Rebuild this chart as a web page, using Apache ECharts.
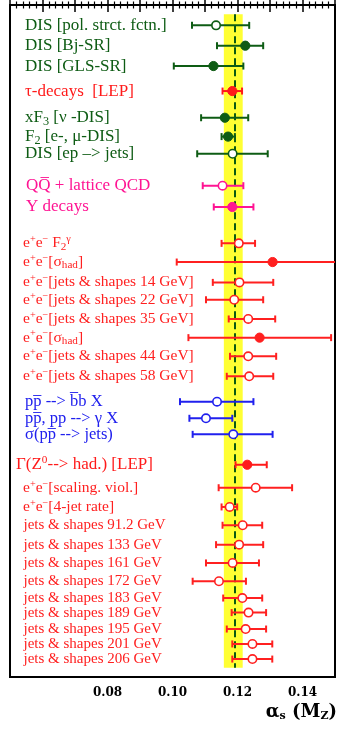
<!DOCTYPE html>
<html lang="en">
<head>
    <meta charset="UTF-8">
    <title>alphas summary</title>
    <script src="https://cdn.jsdelivr.net/npm/echarts@6/dist/echarts.min.js"></script>
    <style>
        html, body { margin: 0; padding: 0; background: #fff; }
        #chart { width: 339px; height: 731px; }
    </style>
</head>
<body>
<div id="chart"></div>
<script>
    // measurements, top to bottom
    var labels = [
        'DIS [pol. strct. fctn.]', 'DIS [Bj-SR]', 'DIS [GLS-SR]', 'τ-decays  [LEP]',
        'xF{sub|3} [ν -DIS]', 'F{sub|2} [e-, μ-DIS]', 'DIS [ep –> jets]',
        'QQ\u0305 + lattice QCD', 'Υ decays',
        'e{sup|+}e{sup|−} F{sub|2}{sup|γ}', 'e{sup|+}e{sup|−}[σ{sub|had}]',
        'e{sup|+}e{sup|−}[jets & shapes 14 GeV]', 'e{sup|+}e{sup|−}[jets & shapes 22 GeV]',
        'e{sup|+}e{sup|−}[jets & shapes 35 GeV]', 'e{sup|+}e{sup|−}[σ{sub|had}]',
        'e{sup|+}e{sup|−}[jets & shapes 44 GeV]', 'e{sup|+}e{sup|−}[jets & shapes 58 GeV]',
        'pp\u0305 --> b\u0305b X', 'pp\u0305, pp --> γ X', 'σ(pp\u0305 --> jets)',
        'Γ(Z{sup|0}--> had.) [LEP]', 'e{sup|+}e{sup|−}[scaling. viol.]', 'e{sup|+}e{sup|−}[4-jet rate]',
        'jets & shapes 91.2 GeV', 'jets & shapes 133 GeV', 'jets & shapes 161 GeV',
        'jets & shapes 172 GeV', 'jets & shapes 183 GeV', 'jets & shapes 189 GeV',
        'jets & shapes 195 GeV', 'jets & shapes 201 GeV', 'jets & shapes 206 GeV'
    ];
    var groups = ['dis', 'dis', 'dis', 'tau', 'dis', 'dis', 'dis', 'hq', 'hq',
        'ee', 'ee', 'ee', 'ee', 'ee', 'ee', 'ee', 'ee',
        'pp', 'pp', 'pp',
        'z', 'ee', 'ee', 'jets', 'jets', 'jets', 'jets', 'jets', 'jets', 'jets', 'jets', 'jets'];
    var filled = [0, 1, 1, 1, 1, 1, 0, 0, 1, 0, 1, 0, 0, 0, 1, 0, 0, 0, 0, 0, 1, 0, 0, 0, 0, 0, 0, 0, 0, 0, 0, 0];
    var alphaS = [0.1134, 0.1224, 0.1126, 0.1184, 0.1161, 0.1171, 0.1185, 0.1154, 0.1184,
        0.1204, 0.1308, 0.1206, 0.1190, 0.1233, 0.1268, 0.1233, 0.1236,
        0.1137, 0.1103, 0.1187,
        0.1230, 0.1256, 0.1176, 0.1216, 0.1205, 0.1185, 0.1143, 0.1215, 0.1234, 0.1225, 0.1246, 0.1246];
    var errLow = [0.1060, 0.1137, 0.1004, 0.1154, 0.1088, 0.1151, 0.1076, 0.1093, 0.1127,
        0.1151, 0.1013, 0.1124, 0.1103, 0.1173, 0.1049, 0.1177, 0.1167,
        0.1023, 0.1052, 0.1062,
        0.1194, 0.1142, 0.1151, 0.1154, 0.1134, 0.1103, 0.1062, 0.1156, 0.1182, 0.1167, 0.1184, 0.1184];
    var errHigh = [0.1236, 0.1279, 0.1218, 0.1214, 0.1233, 0.1192, 0.1293, 0.1218, 0.1249,
        0.1254, 0.1603, 0.1310, 0.1279, 0.1316, 0.1488, 0.1319, 0.1310,
        0.1249, 0.1184, 0.1308,
        0.1290, 0.1368, 0.1199, 0.1276, 0.1279, 0.1266, 0.1226, 0.1276, 0.1288, 0.1288, 0.1307, 0.1307];
    // vertical slot of every row (row units, top = 0)
    var rowPos = [1.09, 2.18, 3.27, 4.61, 6.04, 7.05, 7.97, 9.68, 10.82,
        12.77, 13.77, 14.86, 15.79, 16.82, 17.82, 18.82, 19.89,
        21.25, 22.14, 23.0,
        24.63, 25.86, 26.89, 27.87, 28.91, 29.89, 30.87, 31.77, 32.55, 33.43, 34.23, 35.04];

    var worldAvg = 0.119;
    var avgBand = [0.1158, 0.1216];
    var xTickLabels = ['0.08', '0.10', '0.12', '0.14'];

    var groupColor = {dis: '#0e5c14', tau: '#ff1a1a', hq: '#ff1493', ee: '#ff2020', pp: '#2020ee', z: '#ff1a1a', jets: '#ff2020'};
    var groupFont = {dis: 17, tau: 17, hq: 17, ee: 15.5, pp: 16.5, z: 17, jets: 15};
    var groupIndent = {dis: 15, tau: 15, hq: 16, ee: 13, pp: 15, z: 6, jets: 13.5};

    var rows = [];
    for (var i = 0; i < labels.length; i++) {
        rows.push([alphaS[i], errLow[i], errHigh[i], rowPos[i], i]);
    }

    function renderRow(params, api) {
        var i = api.value(4);
        var g = groups[i];
        var col = groupColor[g];
        var cs = params.coordSys;
        var right = cs.x + cs.width;
        var c = api.coord([api.value(0), api.value(3)]);
        var lo = api.coord([api.value(1), api.value(3)]);
        var hi = api.coord([api.value(2), api.value(3)]);
        var hx = Math.min(hi[0], right);
        var kids = [];
        kids.push({type: 'line', shape: {x1: lo[0], y1: c[1], x2: hx, y2: c[1]}, style: {stroke: col, lineWidth: 2}});
        kids.push({type: 'line', shape: {x1: lo[0], y1: c[1] - 3.5, x2: lo[0], y2: c[1] + 3.5}, style: {stroke: col, lineWidth: 2}});
        if (hi[0] < right) {
            kids.push({type: 'line', shape: {x1: hi[0], y1: c[1] - 3.5, x2: hi[0], y2: c[1] + 3.5}, style: {stroke: col, lineWidth: 2}});
        }
        kids.push({
            type: 'circle', shape: {cx: c[0], cy: c[1], r: filled[i] ? 4.6 : 4.2},
            style: {fill: filled[i] ? col : '#fff', stroke: col, lineWidth: filled[i] ? 1 : 1.6}
        });
        var fs = groupFont[g];
        kids.push({
            type: 'text',
            style: {
                text: labels[i], x: cs.x + groupIndent[g], y: c[1],
                fill: col, fontSize: fs, fontFamily: 'Liberation Serif',
                align: 'left', verticalAlign: 'middle',
                rich: {
                    sup: {fontSize: fs * 0.66, fontFamily: 'Liberation Serif', fill: col, padding: [0, 0, fs * 0.5, 0]},
                    sub: {fontSize: fs * 0.72, fontFamily: 'Liberation Serif', fill: col, padding: [fs * 0.45, 0, 0, 0]}
                }
            }
        });
        return {type: 'group', children: kids};
    }

    var chart = echarts.init(document.getElementById('chart'));
    var tickStyle = {
        axisLine: {show: true, lineStyle: {color: '#000', width: 2}},
        axisTick: {show: true, inside: true, length: 7, lineStyle: {color: '#000', width: 1.5}},
        minorTick: {show: true, splitNumber: 5, length: 3.5, lineStyle: {color: '#000', width: 1.2}},
        splitLine: {show: false}
    };
    chart.setOption({
        animation: false,
        backgroundColor: '#fff',
        grid: {left: 10, right: 4, top: 5, bottom: 54, show: true, borderColor: '#000', borderWidth: 2},
        xAxis: [
            Object.assign({
                type: 'value', min: 0.05, max: 0.15, interval: 0.01, position: 'bottom',
                axisLabel: {
                    margin: 10, color: '#000', fontFamily: 'DejaVu Serif', fontWeight: 'bold', fontSize: 12,
                    formatter: function (v) {
                        var s = v.toFixed(2);
                        return xTickLabels.indexOf(s) >= 0 ? s : '';
                    }
                }
            }, tickStyle),
            Object.assign({
                type: 'value', min: 0.05, max: 0.15, interval: 0.01, position: 'top',
                axisLabel: {show: false}
            }, tickStyle)
        ],
        yAxis: {
            type: 'value', min: 0, max: 36, inverse: true,
            axisLine: {show: true, lineStyle: {color: '#000', width: 2}},
            axisTick: {show: false}, axisLabel: {show: false}, splitLine: {show: false}
        },
        graphic: [{
            type: 'text', right: 2, top: 703,
            style: {
                text: '{a|α}{s|s}{a| (M}{z|Z}{a|)}',
                rich: {
                    a: {fontFamily: 'DejaVu Serif', fontWeight: 'bold', fontSize: 18, fill: '#000'},
                    s: {fontFamily: 'DejaVu Serif', fontWeight: 'bold', fontSize: 11, fill: '#000', padding: [8, 0, 0, 0]},
                    z: {fontFamily: 'DejaVu Serif', fontWeight: 'bold', fontSize: 11, fill: '#000', padding: [8, 0, 0, 0]}
                }
            }
        }],
        series: [
            {
                type: 'line', data: [], silent: true,
                markArea: {
                    silent: true,
                    itemStyle: {color: '#ffff33', opacity: 1},
                    data: [[{xAxis: avgBand[0], yAxis: 0.5}, {xAxis: avgBand[1], yAxis: 35.5}]]
                },
                markLine: {
                    silent: true, symbol: 'none', label: {show: false},
                    lineStyle: {color: '#0a5a12', width: 2, type: [7, 4]},
                    data: [[{coord: [worldAvg, 0.5]}, {coord: [worldAvg, 35.5]}]]
                }
            },
            {
                type: 'custom', renderItem: renderRow, data: rows,
                encode: {x: [0, 1, 2], y: 3}, z: 5
            }
        ]
    });
</script>
</body>
</html>
